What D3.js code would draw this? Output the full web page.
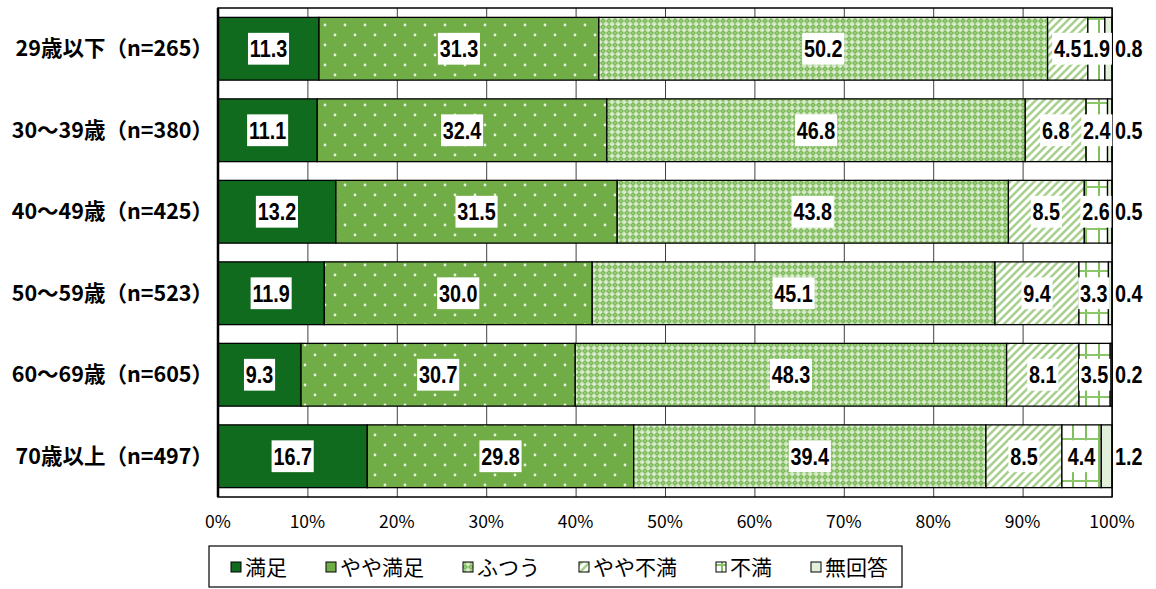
<!DOCTYPE html>
<html>
<head>
<meta charset="utf-8">
<script src="https://cdn.jsdelivr.net/npm/d3@7"></script>
<style>
  html, body { margin: 0; padding: 0; background: #fff; }
  svg { display: block; }
</style>
</head>
<body>
<svg id="chart" width="1156" height="589"></svg>
<script>
// Satisfaction by age group (percent, 100% stacked)
const categories = ["29歳以下（n=265）", "30～39歳（n=380）", "40～49歳（n=425）", "50～59歳（n=523）", "60～69歳（n=605）", "70歳以上（n=497）"];
const seriesNames = ["満足", "やや満足", "ふつう", "やや不満", "不満", "無回答"];
const manzoku     = [11.3, 11.1, 13.2, 11.9, 9.3, 16.7];
const yayaManzoku = [31.3, 32.4, 31.5, 30.0, 30.7, 29.8];
const futsuu      = [50.2, 46.8, 43.8, 45.1, 48.3, 39.4];
const yayaFuman   = [4.5, 6.8, 8.5, 9.4, 8.1, 8.5];
const fuman       = [1.9, 2.4, 2.6, 3.3, 3.5, 4.4];
const mukaitou    = [0.8, 0.5, 0.5, 0.4, 0.2, 1.2];
const tickValues  = [0, 10, 20, 30, 40, 50, 60, 70, 80, 90, 100];
const tickLabels  = ["0%", "10%", "20%", "30%", "40%", "50%", "60%", "70%", "80%", "90%", "100%"];

const series = [manzoku, yayaManzoku, futsuu, yayaFuman, fuman, mukaitou];

const svg = d3.select("#chart");
const plot = { left: 218, right: 1112, top: 8, bottom: 497 };

// --- fill patterns -------------------------------------------------------
const defs = svg.append("defs");

// dotted medium green
const pDots = defs.append("pattern").attr("id", "pDots")
  .attr("patternUnits", "userSpaceOnUse").attr("width", 20).attr("height", 20);
pDots.append("rect").attr("width", 20).attr("height", 20).attr("fill", "#70ad47");
pDots.append("circle").attr("cx", 5).attr("cy", 5).attr("r", 1.4).attr("fill", "#e8f3e0");
pDots.append("circle").attr("cx", 15).attr("cy", 15).attr("r", 1.4).attr("fill", "#e8f3e0");

// diamond lattice
const pLattice = defs.append("pattern").attr("id", "pLattice")
  .attr("patternUnits", "userSpaceOnUse").attr("width", 6).attr("height", 6);
pLattice.append("rect").attr("width", 6).attr("height", 6).attr("fill", "#cfe6bf");
pLattice.append("path").attr("d", "M3,0 L6,3 L3,6 L0,3 Z").attr("fill", "#7ab957");
pLattice.append("rect").attr("x", 2.2).attr("y", 2.2).attr("width", 1.6).attr("height", 1.6).attr("fill", "#a6d38a");
pLattice.append("rect").attr("x", 0).attr("y", 0).attr("width", 1).attr("height", 1).attr("fill", "#f4faef");

// diagonal stripes
const pStripe = defs.append("pattern").attr("id", "pStripe")
  .attr("patternUnits", "userSpaceOnUse").attr("width", 8).attr("height", 8);
pStripe.append("rect").attr("width", 8).attr("height", 8).attr("fill", "#ffffff");
pStripe.append("path").attr("d", "M-2,2 L2,-2 M0,8 L8,0 M6,10 L10,6")
  .attr("stroke", "#a9d18e").attr("stroke-width", 2.6);

// wide plaid
const pPlaid = defs.append("pattern").attr("id", "pPlaid")
  .attr("patternUnits", "userSpaceOnUse").attr("width", 13).attr("height", 42)
  .attr("y", 8);
pPlaid.append("rect").attr("width", 13).attr("height", 42).attr("fill", "#ffffff");
pPlaid.append("rect").attr("x", 6).attr("y", 0).attr("width", 2).attr("height", 42).attr("fill", "#7fbf5c");
pPlaid.append("rect").attr("x", 0).attr("y", 10).attr("width", 13).attr("height", 2).attr("fill", "#8cc66b");

const fills = ["#116b1e", "url(#pDots)", "url(#pLattice)", "url(#pStripe)", "url(#pPlaid)", "#e2efda"];

// --- scales ---------------------------------------------------------------
const x = d3.scaleLinear().domain([0, 100]).range([plot.left, plot.right]);
const y = d3.scaleBand().domain(categories).range([plot.top, plot.bottom])
  .paddingInner(0.23).paddingOuter(0.115);

// gridlines
const grid = svg.append("g")
  .attr("transform", `translate(0,${plot.bottom})`)
  .call(d3.axisBottom(x).tickValues(tickValues).tickSize(-(plot.bottom - plot.top)).tickFormat(""));
grid.select(".domain").remove();
grid.selectAll("line").attr("stroke", "#404040").attr("stroke-width", 1);

// --- stacked bars ---------------------------------------------------------
const rows = categories.map((c, i) => {
  const vals = series.map(s => s[i]);
  const total = d3.sum(vals);
  let acc = 0;
  const segs = vals.map((v, k) => {
    const s = { cat: c, k, v, x0: acc / total * 100, x1: (acc + v) / total * 100 };
    acc += v;
    return s;
  });
  return { cat: c, segs };
});

const barG = svg.append("g");
rows.forEach(r => {
  barG.selectAll(null).data(r.segs).join("rect")
    .attr("x", d => x(d.x0))
    .attr("y", y(r.cat))
    .attr("width", d => Math.max(0, x(d.x1) - x(d.x0)))
    .attr("height", y.bandwidth())
    .attr("fill", d => fills[d.k])
    .attr("stroke", "#000")
    .attr("stroke-width", 1.3);
});

// plot frame
svg.append("rect")
  .attr("x", plot.left).attr("y", plot.top)
  .attr("width", plot.right - plot.left).attr("height", plot.bottom - plot.top)
  .attr("fill", "none").attr("stroke", "#000").attr("stroke-width", 1.5);
svg.append("line")
  .attr("x1", plot.left).attr("x2", plot.left).attr("y1", plot.top).attr("y2", plot.bottom)
  .attr("stroke", "#000").attr("stroke-width", 2.5);

// --- value labels (slightly condensed, on white boxes) -------------------
const labelG = svg.append("g")
  .style("font-family", "'Liberation Sans', Arial, sans-serif")
  .style("font-weight", "bold")
  .style("font-size", "22px");

rows.forEach(r => {
  r.segs.forEach(d => {
    const last = d.k === seriesNames.length - 1;
    const cx = last ? plot.right + 3 : (x(d.x0) + x(d.x1)) / 2;
    const cy = y(r.cat) + y.bandwidth() / 2;
    const g = labelG.append("g")
      .attr("transform", `translate(${cx},${cy}) scale(0.9,1.06)`);
    const bg = g.append("rect").attr("fill", "#fff");
    const t = g.append("text")
      .attr("x", 0).attr("y", 0)
      .attr("dy", "0.36em")
      .attr("text-anchor", last ? "start" : "middle")
      .attr("fill", "#000")
      .text(d.v.toFixed(1));
    const bb = t.node().getBBox();
    bg.attr("x", bb.x - 2).attr("y", -15).attr("width", bb.width + 4).attr("height", 30);
  });
});

// --- category labels --------------------------------------------------------
svg.append("g").selectAll("text").data(categories).join("text")
  .attr("x", 213)
  .attr("y", d => y(d) + y.bandwidth() / 2)
  .attr("dy", "0.36em")
  .attr("text-anchor", "end")
  .style("font-family", "'Noto Sans CJK JP', sans-serif")
  .style("font-weight", "bold")
  .style("font-size", "21.5px")
  .attr("fill", "#000")
  .text(d => d);

// --- x tick labels --------------------------------------------------------
svg.append("g").selectAll("text").data(tickValues).join("text")
  .attr("x", d => x(d))
  .attr("y", 522)
  .attr("dy", "0.36em")
  .attr("text-anchor", "middle")
  .style("font-family", "'Noto Sans CJK JP', sans-serif")
  .style("font-size", "17.5px")
  .attr("fill", "#000")
  .text((d, i) => tickLabels[i]);

// --- legend ---------------------------------------------------------------
const legend = svg.append("g");
legend.append("rect")
  .attr("x", 209).attr("y", 546).attr("width", 693).attr("height", 41)
  .attr("fill", "#fff").attr("stroke", "#000").attr("stroke-width", 1.2);

const legStart = 231, legEnd = 888, swatch = 10, swGap = 4;
const items = seriesNames.map((name, k) => {
  const item = legend.append("g");
  item.append("rect")
    .attr("y", 562).attr("width", swatch).attr("height", swatch)
    .attr("fill", fills[k]).attr("stroke", "#000").attr("stroke-width", 1);
  const t = item.append("text")
    .attr("y", 567).attr("dy", "0.36em")
    .style("font-family", "'Noto Sans CJK JP', sans-serif")
    .style("font-size", "21px")
    .attr("fill", "#000")
    .text(name);
  return { item, t, w: swatch + swGap + t.node().getComputedTextLength() };
});
const itemGap = (legEnd - legStart - d3.sum(items, d => d.w)) / (items.length - 1);
let lx = legStart;
items.forEach(d => {
  d.item.select("rect").attr("x", lx);
  d.t.attr("x", lx + swatch + swGap);
  lx += d.w + itemGap;
});
</script>
</body>
</html>
